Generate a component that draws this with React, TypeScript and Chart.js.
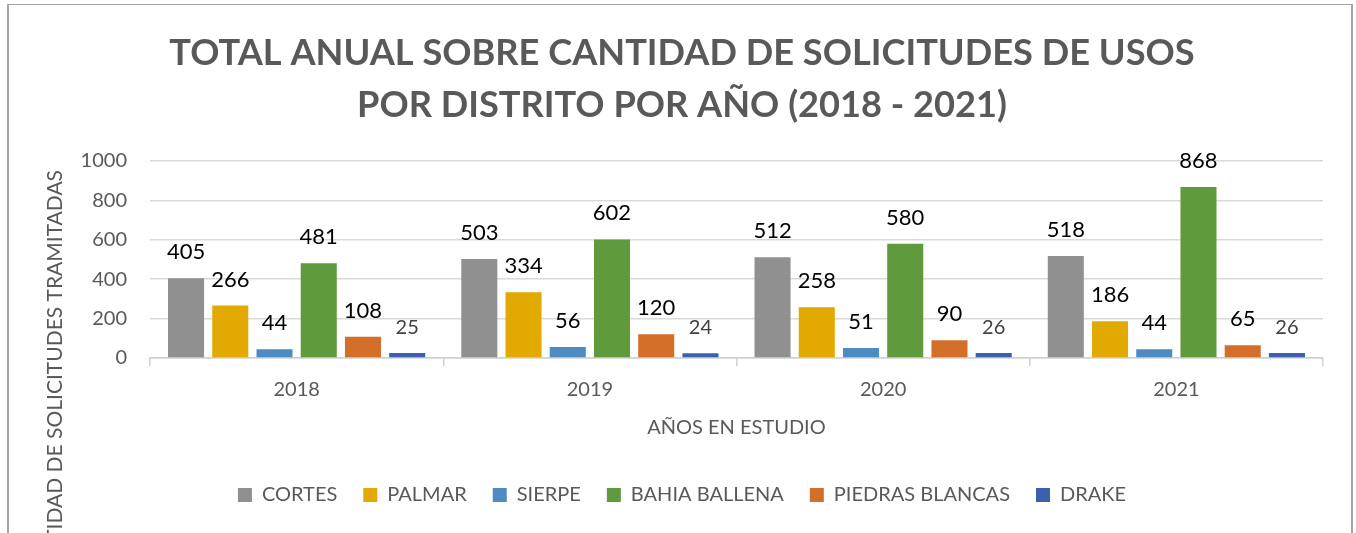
import React, { useEffect, useRef } from 'react';
import { Chart, registerables } from 'chart.js';

Chart.register(...registerables);

const categories = ['2018', '2019', '2020', '2021'];
const cortes = [405, 503, 512, 518];
const palmar = [266, 334, 258, 186];
const sierpe = [44, 56, 51, 44];
const bahiaBallena = [481, 602, 580, 868];
const piedrasBlancas = [108, 120, 90, 65];
const drake = [25, 24, 26, 26];

const seriesNames = ['CORTES', 'PALMAR', 'SIERPE', 'BAHIA BALLENA', 'PIEDRAS BLANCAS', 'DRAKE'];
const seriesValues = [cortes, palmar, sierpe, bahiaBallena, piedrasBlancas, drake];
const seriesColors = ['#909090', '#E2AA00', '#4E8BC3', '#5F9A3C', '#D46F2A', '#3B60AD'];

const titleLines = ['TOTAL ANUAL SOBRE CANTIDAD DE SOLICITUDES DE USOS', 'POR DISTRITO POR AÑO (2018 - 2021)'];
const yAxisTitle = 'CANTIDAD DE SOLICITUDES TRAMITADAS';
const xAxisTitle = 'AÑOS EN ESTUDIO';
const yMin = 0;
const yMax = 1000;
const yStep = 200;

const FONT = 'Lato';
const GRAY_TEXT = '#595959';

const dataLabelPlugin = {
  id: 'dataLabels',
  afterDatasetsDraw(chart: any) {
    const ctx = chart.ctx;
    ctx.save();
    chart.data.datasets.forEach((ds: any, i: number) => {
      const meta = chart.getDatasetMeta(i);
      const isDrake = i === 5;
      ctx.font = `${isDrake ? 20 : 22}px ${FONT}`;
      ctx.fillStyle = isDrake ? '#404040' : '#000000';
      ctx.textAlign = 'center';
      ctx.textBaseline = 'alphabetic';
      meta.data.forEach((bar: any, j: number) => {
        ctx.fillText(String(ds.data[j]), bar.x, bar.y - 19);
      });
    });
    ctx.restore();
  },
};

const yTitlePlugin = {
  id: 'yTitle',
  afterDraw(chart: any) {
    const ctx = chart.ctx;
    ctx.save();
    ctx.translate(55, 170);
    ctx.rotate(-Math.PI / 2);
    ctx.font = `21px ${FONT}`;
    ctx.fillStyle = GRAY_TEXT;
    ctx.textAlign = 'right';
    ctx.textBaseline = 'middle';
    ctx.fillText(yAxisTitle, 0, 0);
    ctx.restore();
  },
};

export default function App() {
  const ref = useRef<HTMLCanvasElement>(null);

  useEffect(() => {
    if (!ref.current) return;
    const chart = new Chart(ref.current, {
      type: 'bar',
      data: {
        labels: categories,
        datasets: seriesNames.map((name, i) => ({
          label: name,
          data: seriesValues[i],
          backgroundColor: seriesColors[i],
          borderWidth: 0,
          categoryPercentage: 0.905,
          barPercentage: 0.815,
        })),
      },
      options: {
        responsive: false,
        animation: false,
        devicePixelRatio: 1,
        layout: { padding: { top: 0, left: 8, right: 0, bottom: 18 } },
        plugins: {
          tooltip: { enabled: false },
          title: {
            display: true,
            text: titleLines,
            color: GRAY_TEXT,
            font: { family: FONT, size: 36.2, weight: 'bold', lineHeight: 52 / 36.2 },
            padding: { top: 27.5, bottom: 29.5 },
          },
          legend: {
            display: true,
            position: 'bottom',
            labels: {
              color: GRAY_TEXT,
              font: { family: FONT, size: 20 },
              boxWidth: 14,
              boxHeight: 14,
              padding: 26,
            },
          },
        },
        scales: {
          x: {
            grid: {
              display: true,
              drawOnChartArea: false,
              drawTicks: true,
              tickLength: 8,
              color: '#D0D0D0',
              lineWidth: 1.5,
            },
            border: { display: true, color: '#D0D0D0', width: 1.5 },
            ticks: {
              color: GRAY_TEXT,
              font: { family: FONT, size: 20 },
              padding: 12,
            },
            title: {
              display: true,
              text: xAxisTitle,
              color: GRAY_TEXT,
              font: { family: FONT, size: 20 },
              padding: { top: 2, bottom: 19 },
            },
          },
          y: {
            min: yMin,
            max: yMax,
            position: 'left',
            afterFit(scale: any) {
              scale.width = 142;
            },
            grid: { color: '#D9D9D9', lineWidth: 1.5, drawTicks: false },
            border: { display: false },
            ticks: {
              stepSize: yStep,
              color: GRAY_TEXT,
              font: { family: FONT, size: 20 },
              padding: 23,
              callback: (v: any) => String(v),
            },
            title: { display: false },
          },
          yRight: {
            position: 'right',
            display: true,
            min: yMin,
            max: yMax,
            afterFit(scale: any) {
              scale.width = 33;
            },
            grid: { display: false, drawOnChartArea: false },
            border: { display: false },
            ticks: { display: false },
          },
        },
      },
      plugins: [dataLabelPlugin, yTitlePlugin],
    } as any);
    return () => chart.destroy();
  }, []);

  return (
    <div
      style={{
        position: 'fixed',
        left: 0,
        top: 0,
        width: 1356,
        height: 533,
        overflow: 'hidden',
        background: '#ffffff',
      }}
    >
      <canvas
        ref={ref}
        width={1356}
        height={533}
        style={{ position: 'absolute', left: 0, top: 0, width: 1356, height: 533 }}
      />
      <div
        style={{
          position: 'absolute',
          left: 7,
          top: 4,
          width: 1342,
          height: 600,
          borderTop: '1px solid #A6A6A6',
          borderLeft: '2px solid #A6A6A6',
          borderRight: '2px solid #A6A6A6',
          pointerEvents: 'none',
        }}
      />
    </div>
  );
}
